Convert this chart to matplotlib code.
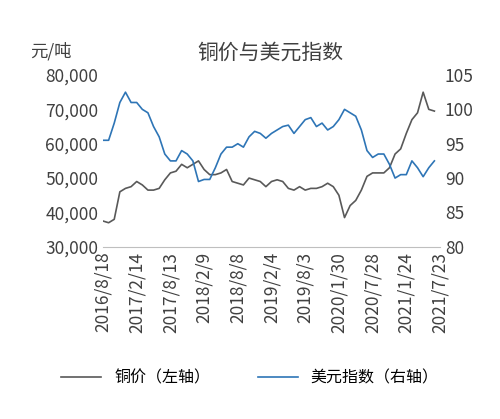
import matplotlib
matplotlib.use("Agg")
import matplotlib.pyplot as plt
import pandas as pd
from matplotlib.ticker import FuncFormatter

plt.rcParams['font.family'] = ['Noto Sans CJK SC', 'DejaVu Sans']

dates = pd.date_range("2016-08-18", periods=60, freq="30D")
copper = [37500, 37000, 38000, 46000, 47000,
          47500, 49000, 48000, 46500, 46500, 47000, 49500, 51500, 52000, 54000, 53000, 54000,
          55000, 52500, 51000, 51000, 51500, 52500, 49000, 48500, 48000, 50000, 49500, 49000,
          47500, 49000, 49500, 49000, 47000, 46500, 47500, 46500, 47000, 47000, 47500, 48500,
          47500, 45000, 38500, 42000, 43500, 46500, 50500, 51500, 51500, 51500, 53000, 57000,
          58500, 63000, 67000, 69000, 75000, 70000, 69500]
dxy = [95.5, 95.5, 98, 101, 102.5,
       101, 101, 100, 99.5, 97.5, 96, 93.5, 92.5, 92.5, 94, 93.5, 92.5,
       89.5, 89.8, 89.8, 91.5, 93.5, 94.5, 94.5, 95, 94.5, 96, 96.8, 96.5,
       95.8, 96.5, 97, 97.5, 97.7, 96.5, 97.5, 98.5, 98.8, 97.5, 98, 97,
       97.5, 98.5, 100, 99.5, 99, 97, 94, 93, 93.5, 93.5, 92, 90,
       90.5, 90.5, 92.5, 91.5, 90.2, 91.5, 92.5]
tick_labels = ["2016/8/18", "2017/2/14", "2017/8/13", "2018/2/9", "2018/8/8", "2019/2/4",
               "2019/8/3", "2020/1/30", "2020/7/28", "2021/1/24", "2021/7/23"]

fig = plt.figure(figsize=(5, 4.19), dpi=100)
ax = fig.add_axes([0.206, 0.411, 0.674, 0.41])
ax2 = ax.twinx()
l1, = ax.plot(dates, copper, color="#595959", lw=1.2, label="铜价（左轴）")
l2, = ax2.plot(dates, dxy, color="#2E75B6", lw=1.2, label="美元指数（右轴）")
ax.set_ylim(30000, 80000)
ax2.set_ylim(80, 105)
ax.set_yticks(range(30000, 80001, 10000))
ax2.set_yticks(range(80, 106, 5))
ax.yaxis.set_major_formatter(FuncFormatter(lambda v, p: f"{int(v):,}"))
tpos = pd.to_datetime(tick_labels, format="%Y/%m/%d")
ax.set_xticks(tpos)
ax.set_xticklabels(tick_labels, rotation=90)
ax.set_xlim(tpos[0], tpos[-1])
for a in (ax, ax2):
    a.tick_params(labelsize=12.5, colors="#404040", length=0)
    for s in a.spines.values():
        s.set_visible(False)
ax.spines['bottom'].set_visible(True)
ax.spines['bottom'].set_color("#BFBFBF")
fig.text(0.54, 0.86, "铜价与美元指数", ha="center", fontsize=15, color="#404040")
fig.text(0.06, 0.865, "元/吨", fontsize=12.5, color="#404040")
fig.legend(handles=[l1, l2], loc="center", bbox_to_anchor=(0.5, 0.098), ncol=2,
           frameon=False, fontsize=11.5, handlelength=2.5, columnspacing=3)
fig.savefig("out.png", dpi=100)
